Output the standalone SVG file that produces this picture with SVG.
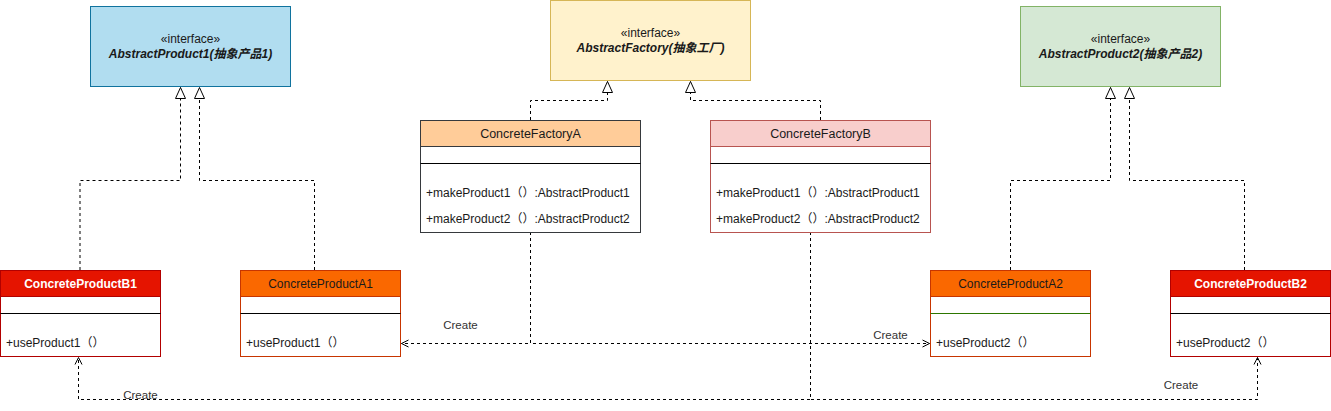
<svg xmlns="http://www.w3.org/2000/svg" width="1331" height="411" viewBox="0 0 1331 411">
<style>
text{font-family:"Liberation Sans","Noto Sans CJK SC",sans-serif;fill:#1a1a1a}
.st{font-size:12px;text-anchor:middle}
.nm{font-size:12px;font-weight:bold;font-style:italic;text-anchor:middle}
.hd{font-size:12.5px;text-anchor:middle}
.hp{font-size:12px;text-anchor:middle}
.hdb{font-size:12px;font-weight:bold;text-anchor:middle}
.m{font-size:12px}
.lbl{font-size:11.5px;text-anchor:middle;fill:#333}
.sep{stroke:#000;stroke-width:1}
.dash{fill:none;stroke:#000;stroke-width:1;stroke-dasharray:3 3}
</style>
<defs>
<marker id="tri" markerUnits="userSpaceOnUse" markerWidth="14" markerHeight="12" refX="12" refY="5.5" orient="auto" viewBox="0 0 14 12">
<path d="M1,0.5 L12,5.5 L1,10.5 Z" fill="#fff" stroke="#000" stroke-width="1"/>
</marker>
<marker id="open" markerUnits="userSpaceOnUse" markerWidth="10" markerHeight="10" refX="8" refY="4" orient="auto" viewBox="0 0 10 8">
<path d="M1,0.5 L8,4 L1,7.5" fill="none" stroke="#000" stroke-width="1"/>
</marker>
</defs>

<g id="connectors">
<path class="dash" d="M80 270 V180.5 H180.5 V87.5" marker-end="url(#tri)"/>
<path class="dash" d="M314.5 270 V180.5 H199.5 V87.5" marker-end="url(#tri)"/>
<path class="dash" d="M530.5 120 V100.5 H607.5 V81.5" marker-end="url(#tri)"/>
<path class="dash" d="M820.5 120 V100.5 H690.5 V81.5" marker-end="url(#tri)"/>
<path class="dash" d="M1010.5 270 V180.5 H1110.5 V87.5" marker-end="url(#tri)"/>
<path class="dash" d="M1244.5 270 V180.5 H1129.5 V87.5" marker-end="url(#tri)"/>
<path class="dash" d="M530.5 232 V343.5 H401.5" marker-end="url(#open)"/>
<path class="dash" d="M530.5 232 V343.5 H929.5" marker-end="url(#open)"/>
<path class="dash" d="M810.5 232 V399.5 H78.5 V357.5" marker-end="url(#open)"/>
<path class="dash" d="M810.5 232 V399.5 H1257.5 V357.5" marker-end="url(#open)"/>
<text class="lbl" x="460.5" y="329">Create</text>
<text class="lbl" x="890.5" y="339">Create</text>
<text class="lbl" x="140.5" y="399">Create</text>
<text class="lbl" x="1181" y="389">Create</text>
</g>

<g id="AbstractProduct1">
<rect x="90.5" y="6.5" width="200" height="80" fill="#b1ddf0" stroke="#10739e"/>
<text class="st" x="190.5" y="43">«interface»</text>
<text class="nm" x="190.5" y="58">AbstractProduct1(抽象产品1)</text>
</g>

<g id="AbstractFactory">
<rect x="550.5" y="0.5" width="200" height="80" fill="#fff2cc" stroke="#d6b656"/>
<text class="st" x="650.5" y="37">«interface»</text>
<text class="nm" x="650.5" y="52">AbstractFactory(抽象工厂)</text>
</g>

<g id="AbstractProduct2">
<rect x="1020.5" y="6.5" width="200" height="80" fill="#d5e8d4" stroke="#82b366"/>
<text class="st" x="1120.5" y="43">«interface»</text>
<text class="nm" x="1120.5" y="58">AbstractProduct2(抽象产品2)</text>
</g>

<g id="ConcreteFactoryA">
<rect x="420.5" y="120.5" width="220" height="112" fill="#fff" stroke="#36393d"/>
<rect x="420.5" y="120.5" width="220" height="26" fill="#ffcc99" stroke="#36393d"/>
<line class="sep" x1="420.5" y1="163.5" x2="640.5" y2="163.5"/>
<text class="hd" x="530.5" y="138">ConcreteFactoryA</text>
<text class="m" x="426" y="197">+makeProduct1（）:AbstractProduct1</text>
<text class="m" x="426" y="223">+makeProduct2（）:AbstractProduct2</text>
</g>

<g id="ConcreteFactoryB">
<rect x="710.5" y="120.5" width="220" height="112" fill="#fff" stroke="#b85450"/>
<rect x="710.5" y="120.5" width="220" height="26" fill="#f8cecc" stroke="#b85450"/>
<line class="sep" x1="710.5" y1="163.5" x2="930.5" y2="163.5"/>
<text class="hd" x="820.5" y="138">ConcreteFactoryB</text>
<text class="m" x="716" y="197">+makeProduct1（）:AbstractProduct1</text>
<text class="m" x="716" y="223">+makeProduct2（）:AbstractProduct2</text>
</g>

<g id="ConcreteProductB1">
<rect x="0.5" y="270.5" width="160" height="86" fill="#fff" stroke="#b20000"/>
<rect x="0.5" y="270.5" width="160" height="26" fill="#e51400" stroke="#b20000"/>
<line class="sep" x1="0.5" y1="313.5" x2="160.5" y2="313.5"/>
<text class="hdb" x="80.5" y="288" style="fill:#fff">ConcreteProductB1</text>
<text class="m" x="6" y="347">+useProduct1（）</text>
</g>

<g id="ConcreteProductA1">
<rect x="240.5" y="270.5" width="160" height="86" fill="#fff" stroke="#c73500"/>
<rect x="240.5" y="270.5" width="160" height="26" fill="#fa6800" stroke="#c73500"/>
<line class="sep" x1="240.5" y1="313.5" x2="400.5" y2="313.5"/>
<text class="hp" x="320.5" y="288">ConcreteProductA1</text>
<text class="m" x="246" y="347">+useProduct1（）</text>
</g>

<g id="ConcreteProductA2">
<rect x="930.5" y="270.5" width="160" height="86" fill="#fff" stroke="#c73500"/>
<rect x="930.5" y="270.5" width="160" height="26" fill="#fa6800" stroke="#c73500"/>
<line x1="930.5" y1="313.5" x2="1090.5" y2="313.5" stroke="#2d7600"/>
<text class="hp" x="1010.5" y="288">ConcreteProductA2</text>
<text class="m" x="936" y="347">+useProduct2（）</text>
</g>

<g id="ConcreteProductB2">
<rect x="1170.5" y="270.5" width="160" height="86" fill="#fff" stroke="#b20000"/>
<rect x="1170.5" y="270.5" width="160" height="26" fill="#e51400" stroke="#b20000"/>
<line class="sep" x1="1170.5" y1="313.5" x2="1330.5" y2="313.5"/>
<text class="hdb" x="1250.5" y="288" style="fill:#fff">ConcreteProductB2</text>
<text class="m" x="1176" y="347">+useProduct2（）</text>
</g>
</svg>
